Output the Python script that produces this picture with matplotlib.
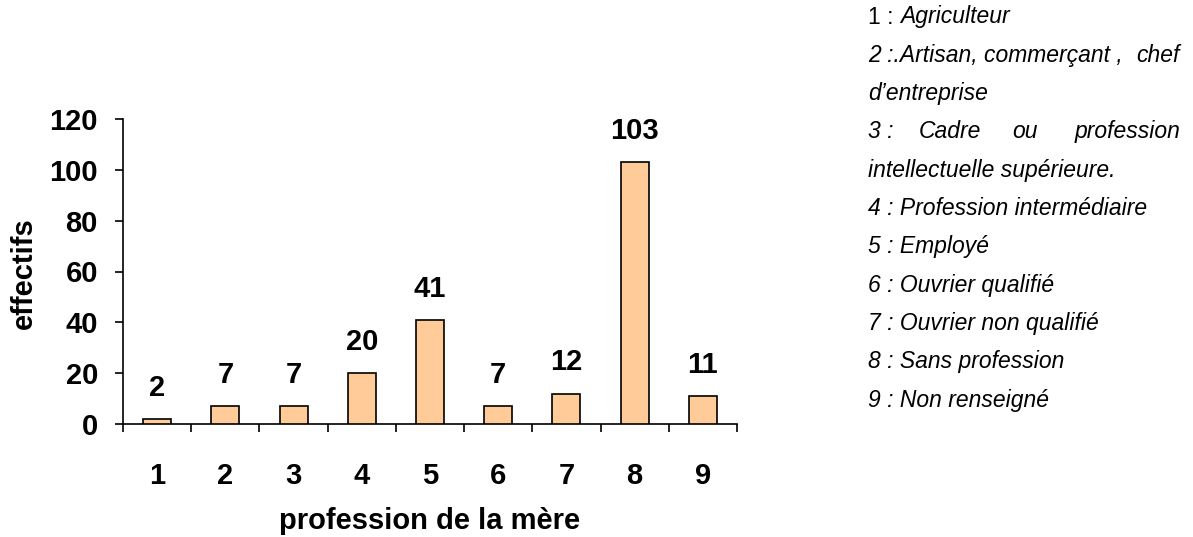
import matplotlib.pyplot as plt

plt.rcParams['font.family'] = ['Liberation Sans', 'DejaVu Sans']

categories = [1, 2, 3, 4, 5, 6, 7, 8, 9]
effectifs = [2, 7, 7, 20, 41, 7, 12, 103, 11]

W, H = 1193, 537
fig = plt.figure(figsize=(W / 100, H / 100), dpi=100)

# axes box in pixel coordinates
x0, x1, ytop, ybot = 123, 737, 119, 424
ax = fig.add_axes([x0 / W, 1 - ybot / H, (x1 - x0) / W, (ybot - ytop) / H])

ax.bar(categories, effectifs, width=0.41, color='#FFCC99',
       edgecolor='black', linewidth=1.2, zorder=3)
for c, v in zip(categories, effectifs):
    ax.annotate(str(v), (c, v), xytext=(0, 22.5), textcoords='offset points',
                ha='center', va='center', fontsize=21, fontweight='bold')

ax.set_xlim(0.5, 9.5)
ax.set_ylim(0, 120)
ax.set_yticks(range(0, 121, 20))
ax.set_xticks(categories)
ax.set_xticks([i + 0.5 for i in range(0, 10)], minor=True)
ax.tick_params(axis='x', which='major', length=0, pad=27, labelsize=21)
ax.tick_params(axis='x', which='minor', length=6, width=1.2, direction='out')
ax.tick_params(axis='y', length=6, width=1.2, pad=12, labelsize=21)
for lab in ax.get_xticklabels() + ax.get_yticklabels():
    lab.set_fontweight('bold')

for s in ['top', 'right']:
    ax.spines[s].set_visible(False)
for s in ['left', 'bottom']:
    ax.spines[s].set_linewidth(1.2)

fig.text(24 / W, 1 - 273 / H, 'effectifs', rotation=90, ha='center',
         va='center', fontsize=21, fontweight='bold')
fig.text(430 / W, 1 - 529 / H, 'profession de la mère', ha='center',
         va='baseline', fontsize=21, fontweight='bold')

# key of the profession codes, right-hand side
lx, rx = 868, 1180
rows = [17 + 38.3 * i for i in range(11)]


def put(x, row, s, ha='left', style='italic'):
    fig.text(x / W, 1 - rows[row] / H, s, ha=ha, va='center',
             fontsize=16.5, style=style)


put(lx, 0, '1 : ', style='normal')
put(lx + 32, 0, 'Agriculteur')
put(lx, 1, '2 :.Artisan, commerçant , ')
put(rx, 1, 'chef', ha='right')
put(lx, 2, 'd’entreprise')
put(lx, 3, '3 :')
put(919, 3, 'Cadre')
put(1025, 3, 'ou', ha='center')
put(rx, 3, 'profession', ha='right')
put(lx, 4, 'intellectuelle supérieure.')
put(lx, 5, '4 : Profession intermédiaire')
put(lx, 6, '5 : Employé')
put(lx, 7, '6 : Ouvrier qualifié')
put(lx, 8, '7 : Ouvrier non qualifié')
put(lx, 9, '8 : Sans profession')
put(lx, 10, '9 : Non renseigné')

fig.savefig('out.png', dpi=100)
